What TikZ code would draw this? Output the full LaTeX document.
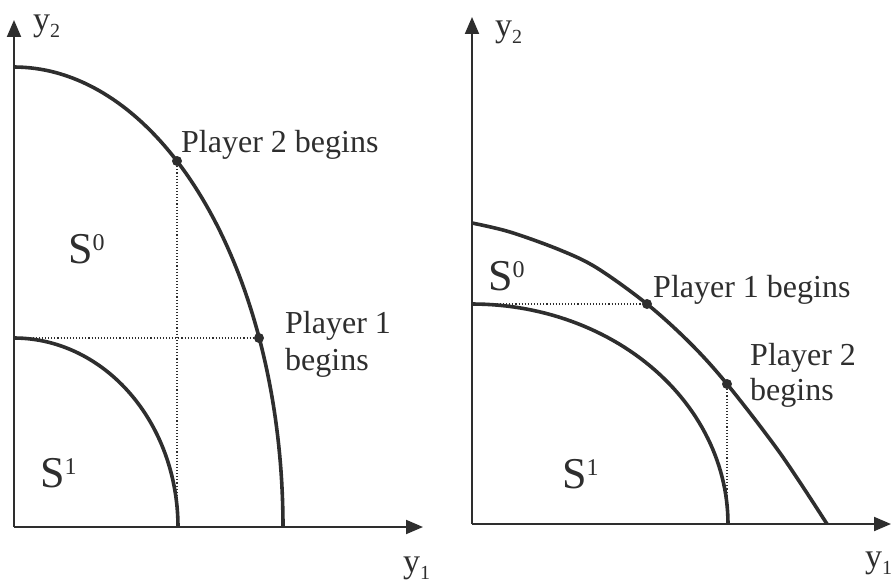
\documentclass[tikz,border=0pt]{standalone}
\usepackage{fontspec}
\setmainfont{Liberation Serif}
\usetikzlibrary{arrows.meta}
\definecolor{ink}{HTML}{2E2E2E}
\begin{document}
\begin{tikzpicture}[x=1pt,y=-1pt,
  axis/.style={draw=ink, line width=2pt, -{Triangle[length=17pt,width=14pt]}},
  curve/.style={draw=ink, line width=3.6pt},
  guide/.style={draw=ink, line width=1.1pt, dotted},
  dot/.style={circle, fill=ink, inner sep=0pt, minimum size=10pt},
  lbl/.style={inner sep=0pt, anchor=base west, text=ink, font=\fontsize{32}{36}\selectfont},
  setlbl/.style={inner sep=0pt, anchor=base west, text=ink, font=\fontsize{44}{48}\selectfont},
  axlbl/.style={inner sep=0pt, anchor=base west, text=ink, font=\fontsize{34}{36}\selectfont}]
\useasboundingbox (0,0) rectangle (891,583);
\newcommand{\supnum}[1]{\raisebox{13pt}{\fontsize{24}{24}\selectfont #1}}
\newcommand{\subnum}[1]{\raisebox{-7pt}{\fontsize{20}{20}\selectfont #1}}

% ---------- left panel ----------
\coordinate (O1) at (14,527);
\coordinate (Y1) at (14,20);
\coordinate (X1) at (423,527);
\draw[axis] (O1) -- (Y1);
\draw[axis] (O1) -- (X1);
\draw[curve] plot[domain=0:90, samples=80] ({14+269*cos(\x)},{527-460*sin(\x)});
\draw[curve] plot[domain=0:90, samples=60] ({14+164*cos(\x)},{527-189*sin(\x)});
\coordinate (H1) at (14,338);
\coordinate (V1) at (177,527);
\node[dot] (P2L) at (177,161) {};
\node[dot] (P1L) at (259,338) {};
\draw[guide] (H1) -- (P1L);
\draw[guide] (P2L) -- (V1);
\node[lbl] (t2L) at (181,152) {Player 2 begins};
\node[lbl] (t1La) at (285,333) {Player 1};
\node[lbl] (t1Lb) at (285,370) {begins};
\node[setlbl] (S0L) at (68,263) {S\supnum{0}};
\node[setlbl] (S1L) at (40,487) {S\supnum{1}};
\node[axlbl] (y2L) at (33,31) {y\subnum{2}};
\node[axlbl] (y1L) at (403,572) {y\subnum{1}};

% ---------- right panel ----------
\coordinate (O2) at (472,524);
\coordinate (Y2) at (472,17);
\coordinate (X2) at (891,524);
\draw[axis] (O2) -- (Y2);
\draw[axis] (O2) -- (X2);
\draw[curve] plot[domain=0:90, samples=60] ({472+256*cos(\x)},{524-220*sin(\x)});
\draw[curve, line join=round] plot[smooth, tension=0.55] coordinates {(472,223) (510,232) (560,250) (597,268) (647,304) (690,343) (727,384) (780,453) (827,524)};
\coordinate (H2) at (472,304);
\coordinate (V2) at (727,524);
\node[dot] (P1R) at (647,304) {};
\node[dot] (P2R) at (727,384) {};
\draw[guide] (H2) -- (P1R);
\draw[guide] (P2R) -- (V2);
\node[lbl] (t1R) at (653,297) {Player 1 begins};
\node[lbl] (t2Ra) at (750,365) {Player 2};
\node[lbl] (t2Rb) at (750,400) {begins};
\node[setlbl] (S0R) at (488,290) {S\supnum{0}};
\node[setlbl] (S1R) at (562,488) {S\supnum{1}};
\node[axlbl] (y2R) at (495,37) {y\subnum{2}};
\node[axlbl] (y1R) at (865,567) {y\subnum{1}};
\end{tikzpicture}
\end{document}
